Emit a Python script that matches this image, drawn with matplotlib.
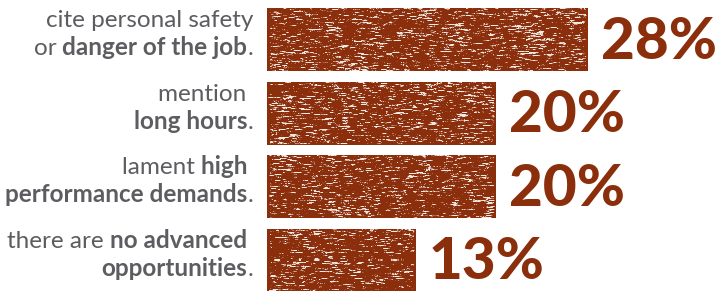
import matplotlib as mpl
import matplotlib.pyplot as plt
import matplotlib.transforms as mtransforms
import numpy as np

# shares of respondents, top to bottom
values = [28, 20, 20, 13]
value_labels = ['28%', '20%', '20%', '13%']
# each reason: two lines, each line is a list of (text, bold) pieces
reasons = [
    [[('cite personal safety', False)],
     [('or ', False), ('danger of the job', True), ('.', False)]],
    [[('mention ', False)],
     [('long hours', True), ('.', False)]],
    [[('lament ', False), ('high ', True)],
     [('performance demands', True), ('.', False)]],
    [[('there are ', False), ('no advanced ', True)],
     [('opportunities', True), ('.', False)]],
]

RED = '#8a2e0b'
GRAY = '#5c5d60'


def add_texture(ax, bar, rng):
    # grungy white streaks, clipped to the bar
    x0, y0 = bar.get_x(), bar.get_y()
    w, h = bar.get_width(), bar.get_height()
    rows, cols = 63, int(w * 11.5)
    noise = rng.random((rows, cols))
    k = np.ones(6) / 6
    noise = np.apply_along_axis(lambda r: np.convolve(r, k, mode='same'), 1, noise)
    # coarse patches where the paint is thinner
    coarse = rng.random((rows // 8 + 2, cols // 20 + 2))
    coarse = np.kron(coarse, np.ones((8, 20)))[:rows, :cols]
    noise += 0.08 * coarse
    alpha = np.clip((noise - 0.62) * 8, 0, 0.9)
    img = np.ones((rows, cols, 4))
    img[..., 3] = alpha
    im = ax.imshow(img, extent=(x0, x0 + w, y0 + h, y0), aspect='auto',
                   interpolation='nearest', zorder=3)
    im.set_clip_path(bar)


def main():
    mpl.rcParams.update({'font.family': ['Lato', 'DejaVu Sans']})

    fig = plt.figure(figsize=(7.21, 2.91), dpi=100)
    px = 11.45  # pixels per percent
    ax = fig.add_axes([267 / 721, 0, 39 * px / 721, 1])
    ax.set_xlim(0, 39)
    spacing = 73.5
    ax.set_ylim(3 + 31 / spacing, -39.5 / spacing)
    ax.axis('off')

    y = np.arange(len(values))
    bars = ax.barh(y, values, height=63 / spacing, color=RED, linewidth=0, zorder=2)

    rng = np.random.default_rng(7)
    for b in bars:
        add_texture(ax, b, rng)

    for yi, v, lab in zip(y, values, value_labels):
        ax.text(v + 13 / px, yi + 19 / spacing, lab, ha='left', va='baseline',
                fontsize=42, fontweight='black', color=RED)

    fig.canvas.draw()
    renderer = fig.canvas.get_renderer()
    x_right = -14 / px
    offsets = [-12.5 / spacing, 15.5 / spacing]
    for yi, lines in zip(y, reasons):
        for dy, pieces in zip(offsets, lines):
            shift = 0
            for text, bold in reversed(pieces):
                tr = mtransforms.offset_copy(ax.transData, fig, x=-shift, y=0, units='dots')
                t = ax.text(x_right, yi + dy, text, transform=tr, ha='right', va='baseline',
                            fontsize=17.5, color=GRAY,
                            fontweight='bold' if bold else 'normal')
                shift += t.get_window_extent(renderer).width

    plt.savefig('out.png', dpi=100)


if __name__ == '__main__':
    main()
